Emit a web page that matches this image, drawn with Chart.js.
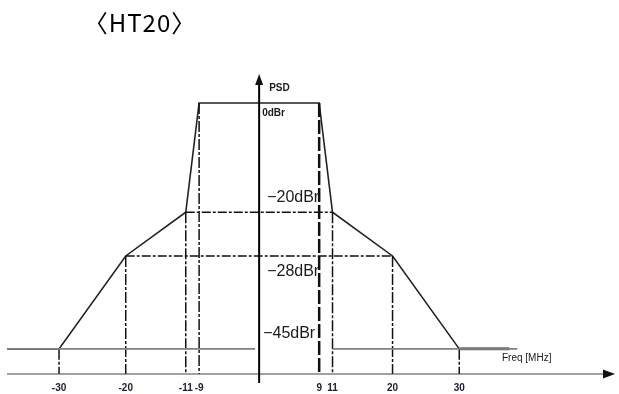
<!DOCTYPE html>
<html>
<head>
<meta charset="utf-8">
<script src="https://cdn.jsdelivr.net/npm/chart.js@4.4.1/dist/chart.umd.min.js"></script>
<style>
    html, body { margin: 0; padding: 0; background: #fff; }
    canvas { display: block; }
</style>
</head>
<body>
<canvas id="mask" width="619" height="394"></canvas>
<script>
const titleText = '〈HT20〉';
// spectral mask corners (MHz, dBr)
const maskFreq = [-37.8, -30, -20, -11, -9, 9, 11, 20, 30];
const maskLevel = [-45, -45, -28, -20, 0, 0, -20, -28, -45];
const tailFreq = [30, 37.5];
const floorLevel = -45;
const floorLeft = [-37.8, -0.6];
const floorRight = [11, 38.7];
// dashed horizontal guides
const guideLevel = [-20, -28];
const guideFrom = [-11, -20];
const guideTo = [11, 20];
const tickFreq = [-30, -20, -11, -9, 9, 11, 20, 30];
const levels = [0, -20, -28, -45];
const levelLabels = ['0dBr', '−20dBr', '−28dBr', '−45dBr'];
const xMin = -37.8, xMax = 53.2, yMin = -49.6, yMax = 5.3;

function levelAt(f) {
    return maskLevel[maskFreq.indexOf(f)];
}

// join several 2-point segments into one dataset with gaps
function segments(list) {
    const pts = [];
    list.forEach((s, i) => {
        if (i) pts.push({ x: s[0][0], y: null });
        pts.push({ x: s[0][0], y: s[0][1] }, { x: s[1][0], y: s[1][1] });
    });
    return pts;
}

const maskPts = maskFreq.map((f, i) => ({ x: f, y: maskLevel[i] }));
const tailPts = tailFreq.map(f => ({ x: f, y: floorLevel }));
const floorPts = segments([
    [[floorLeft[0], floorLevel], [floorLeft[1], floorLevel]],
    [[floorRight[0], floorLevel], [floorRight[1], floorLevel]]
]);
const hGuidePts = segments(guideLevel.map((l, i) => [[guideFrom[i], l], [guideTo[i], l]]));
const vGuidePts = segments(tickFreq.filter(f => f !== 9).map(f => [[f, levelAt(f)], [f, yMin]]));
const vGuide9 = [{ x: 9, y: levelAt(9) }, { x: 9, y: yMin }];

const sketch = {
    id: 'sketch',
    afterDraw(chart) {
        const ctx = chart.ctx;
        const x = chart.scales.x, y = chart.scales.y;
        const area = chart.chartArea;
        const x0 = x.getPixelForValue(0);
        ctx.save();

        // x axis with arrow
        ctx.strokeStyle = '#444';
        ctx.fillStyle = '#111';
        ctx.lineWidth = 1.2;
        ctx.beginPath();
        ctx.moveTo(area.left, area.bottom);
        ctx.lineTo(area.right - 8, area.bottom);
        ctx.stroke();
        ctx.beginPath();
        ctx.moveTo(area.right + 1, area.bottom);
        ctx.lineTo(area.right - 11, area.bottom - 4.5);
        ctx.lineTo(area.right - 11, area.bottom + 4.5);
        ctx.closePath();
        ctx.fill();

        // y axis with arrow
        ctx.strokeStyle = '#000';
        ctx.lineWidth = 2;
        ctx.beginPath();
        ctx.moveTo(x0, area.bottom + 9);
        ctx.lineTo(x0, area.top + 8);
        ctx.stroke();
        ctx.beginPath();
        ctx.moveTo(x0, area.top);
        ctx.lineTo(x0 - 4, area.top + 11);
        ctx.lineTo(x0 + 4, area.top + 11);
        ctx.closePath();
        ctx.fill();

        // title
        ctx.fillStyle = '#000';
        ctx.textAlign = 'center';
        ctx.textBaseline = 'middle';
        ctx.font = '24px "Noto Sans CJK SC"';
        ctx.letterSpacing = '1px';
        ctx.fillText(titleText, 140, 23);
        ctx.letterSpacing = '0px';

        // axis names
        ctx.textAlign = 'left';
        ctx.fillStyle = '#1a1a1a';
        ctx.font = 'bold 10px "Liberation Sans"';
        ctx.fillText('PSD', x0 + 10, area.top + 14);
        ctx.font = '10px "Liberation Sans"';
        ctx.fillText('Freq [MHz]', 502, y.getPixelForValue(floorLevel) + 9);

        // level labels
        levels.forEach((l, i) => {
            const py = y.getPixelForValue(l);
            if (i === 0) {
                ctx.font = 'bold 10px "Liberation Sans"';
                ctx.fillText(levelLabels[i], x0 + 3, py + 10);
            } else {
                ctx.font = '16px "Liberation Sans"';
                const below = l === -28;
                ctx.fillText(levelLabels[i], x0 + (l === -45 ? 4 : 8), below ? py + 16 : py - 15);
            }
        });
        ctx.restore();
    }
};

new Chart(document.getElementById('mask'), {
    type: 'scatter',
    data: {
        datasets: [{
            data: floorPts,
            showLine: true,
            borderColor: '#808080',
            borderWidth: 1.6,
            pointRadius: 0,
        }, {
            data: hGuidePts,
            showLine: true,
            borderColor: '#111',
            borderWidth: 1.5,
            borderDash: [9, 2, 3, 2],
            pointRadius: 0,
        }, {
            data: vGuidePts,
            showLine: true,
            borderColor: '#111',
            borderWidth: 1.5,
            borderDash: [11, 2, 3, 2],
            pointRadius: 0,
        }, {
            data: vGuide9,
            showLine: true,
            borderColor: '#111',
            borderWidth: 2.5,
            borderDash: [14, 3],
            pointRadius: 0,
        }, {
            data: tailPts,
            showLine: true,
            borderColor: '#666',
            borderWidth: 3,
            pointRadius: 0,
        }, {
            data: maskPts,
            showLine: true,
            borderColor: '#222',
            borderWidth: 1.6,
            pointRadius: 0,
        }]
    },
    options: {
        responsive: false,
        animation: false,
        devicePixelRatio: 1,
        layout: {
            padding: { left: 7, right: 5, top: 74, bottom: 0 }
        },
        plugins: {
            legend: { display: false },
            tooltip: { enabled: false },
        },
        scales: {
            x: {
                type: 'linear',
                min: xMin,
                max: xMax,
                afterBuildTicks: (scale) => {
                    scale.ticks = tickFreq.map(v => ({ value: v }));
                },
                afterFit: (scale) => {
                    scale.height = 20;
                },
                grid: { display: false, drawTicks: false, tickLength: 0 },
                border: { display: false },
                ticks: {
                    autoSkip: false,
                    maxRotation: 0,
                    padding: 8,
                    color: '#1c1c2c',
                    font: { family: 'Liberation Sans', size: 10, weight: 'bold' },
                    callback: (v) => v,
                }
            },
            y: {
                type: 'linear',
                display: false,
                min: yMin,
                max: yMax,
            }
        }
    },
    plugins: [sketch]
});
</script>
</body>
</html>
